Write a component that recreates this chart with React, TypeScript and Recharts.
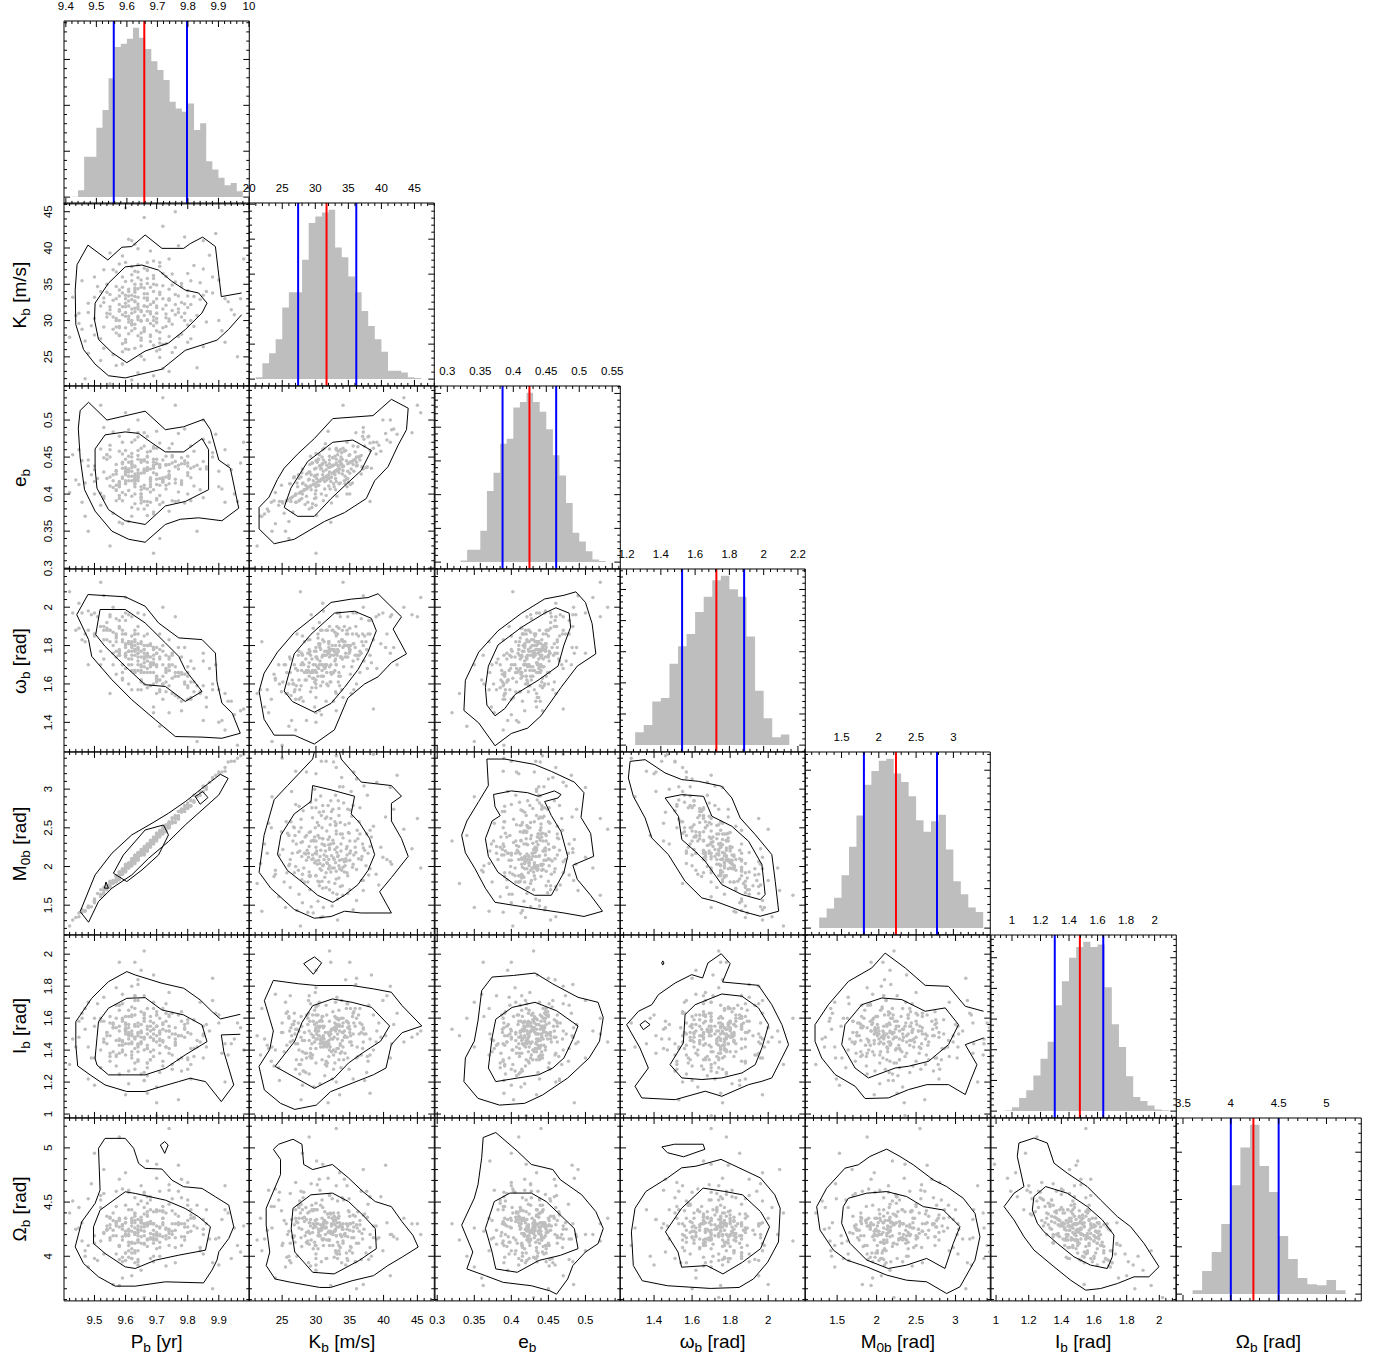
import React from 'react'
import { ScatterChart, Scatter, AreaChart, Area, XAxis, YAxis, ReferenceLine } from 'recharts'

// posterior draws, one entry per draw: P_b, K_b, e_b, omega_b, M_0b, I_b, Omega_b
const P_S = [
  9.62, 9.71, 9.55, 9.84, 9.66, 9.58, 9.77, 9.49, 9.69, 9.92,
  9.63, 9.74, 9.60, 9.53, 9.81, 9.67, 9.59, 9.46, 9.72, 9.64,
  9.88, 9.57, 9.65, 9.79, 9.61, 9.52, 9.70, 9.85, 9.63, 9.56,
  9.75, 9.68, 9.44, 9.73, 9.60, 9.95, 9.66, 9.54, 9.78, 9.62,
  9.69, 9.58, 9.82, 9.64, 9.51, 9.74, 9.67, 9.90, 9.59, 9.71,
  9.63, 9.48, 9.76, 9.65, 9.57, 9.80, 9.62, 9.70, 9.55, 9.86,
  9.66, 9.60, 9.73, 9.47, 9.77, 9.61, 9.64, 9.69, 9.93, 9.58,
  9.67, 9.53, 9.81, 9.63, 9.70, 9.59, 9.75, 9.65, 9.43, 9.84,
  9.68, 9.61, 9.72, 9.57, 9.79, 9.62, 9.66, 9.50, 9.74, 9.87,
  9.60, 9.67, 9.54, 9.76, 9.64, 9.58, 9.71, 9.83, 9.63, 9.69,
  9.45, 9.97, 9.62, 9.66, 9.70, 9.58, 9.78, 9.60, 9.89, 9.52,
  9.64, 9.74, 9.67, 9.56, 9.81, 9.61, 9.69, 9.48, 9.91, 9.65,
  9.73, 9.57, 9.79, 9.63, 9.71, 9.59, 9.68, 9.85, 9.55, 9.66,
  9.76, 9.62, 9.60, 9.72, 9.64, 9.53, 9.82, 9.67, 9.61, 9.70,
  9.94, 9.46, 9.65, 9.77, 9.58, 9.69, 9.63, 9.74, 9.50, 9.80,
  9.66, 9.59, 9.72, 9.62, 9.86, 9.68, 9.55, 9.64, 9.78, 9.60,
  9.70, 9.57, 9.63, 9.75, 9.65, 9.67, 9.61, 9.73, 9.58, 9.69,
  9.80, 9.54, 9.66, 9.62, 9.71, 9.64, 9.60, 9.68, 9.77, 9.56,
  9.42, 9.47, 9.98, 9.96, 9.60, 9.72, 9.55, 9.64, 9.83, 9.69,
  9.52, 9.66, 9.70, 9.58, 9.74, 9.88, 9.50, 9.62, 9.80, 9.45,
  9.90, 9.76, 9.59, 9.67, 9.85, 9.53, 9.71, 9.63, 9.92, 9.48,
  9.61, 9.68, 9.57, 9.74, 9.65, 9.59, 9.70, 9.63, 9.66, 9.78,
  9.55, 9.69, 9.62, 9.72, 9.64, 9.80, 9.58, 9.67, 9.61, 9.71,
  9.65, 9.56, 9.75, 9.63, 9.68, 9.60, 9.73, 9.66, 9.54, 9.77,
  9.62, 9.70, 9.64, 9.59, 9.81, 9.67, 9.57, 9.72, 9.63, 9.69,
  9.60, 9.76, 9.65, 9.58, 9.71, 9.66, 9.62, 9.74, 9.64, 9.53,
  9.79, 9.67, 9.61, 9.70, 9.63, 9.68, 9.59, 9.73, 9.65, 9.62,
  9.69, 9.57, 9.76, 9.64, 9.66, 9.60, 9.72, 9.61, 9.70, 9.65,
  9.52, 9.85, 9.60, 9.75, 9.67, 9.59, 9.82, 9.50, 9.71, 9.63,
  9.78, 9.56, 9.69, 9.64, 9.74, 9.61, 9.68, 9.58, 9.80, 9.65,
]
const K_S = [
  33.5, 28.4, 30.9, 35.2, 24.6, 37.8, 31.1, 29.3, 34.0, 27.0,
  32.6, 38.5, 26.1, 33.1, 30.0, 35.8, 31.9, 28.8, 23.4, 30.4,
  33.8, 36.7, 27.6, 32.3, 41.2, 32.0, 29.7, 37.1, 34.5, 25.3,
  31.4, 39.6, 30.7, 26.8, 33.0, 30.8, 29.0, 35.0, 28.1, 31.6,
  36.2, 27.9, 33.3, 22.8, 34.7, 30.2, 32.8, 35.6, 24.0, 38.0,
  29.5, 32.4, 26.3, 31.2, 30.0, 34.1, 37.4, 25.8, 33.6, 29.8,
  28.5, 35.4, 32.1, 27.2, 40.3, 30.6, 34.4, 26.6, 32.6, 31.5,
  36.9, 29.1, 27.5, 33.9, 30.3, 38.9, 34.9, 25.1, 33.2, 32.9,
  28.0, 32.7, 36.5, 23.8, 31.0, 29.4, 33.7, 36.0, 29.9, 39.0,
  27.4, 31.3, 30.5, 35.3, 37.7, 33.4, 26.9, 30.7, 28.9, 32.5,
  29.6, 33.0, 21.8, 44.2, 31.8, 32.2, 30.5, 33.5, 42.0, 24.5,
  35.9, 23.0, 30.1, 37.0, 35.5, 26.0, 38.2, 31.1, 28.6, 34.6,
  29.2, 28.3, 41.5, 31.7, 24.9, 30.8, 27.1, 26.4, 39.3, 32.0,
  33.6, 36.3, 29.0, 31.6, 33.2, 26.2, 37.6, 35.1, 28.2, 33.0,
  31.5, 35.5, 30.0, 27.8, 34.2, 22.4, 40.5, 32.8, 30.3, 29.4,
  37.2, 25.7, 34.8, 30.0, 34.0, 29.6, 31.9, 36.7, 32.5, 27.0,
  29.8, 33.0, 31.2, 36.4, 26.5, 33.1, 34.3, 30.9, 29.2, 35.0,
  31.8, 31.0, 28.7, 32.9, 33.9, 30.6, 31.9, 32.2, 33.4, 30.5,
  27.7, 22.0, 38.5, 25.0, 45.5, 43.0, 21.3, 39.9, 23.5, 30.0,
  34.0, 32.0, 31.0, 29.0, 33.0, 36.0, 28.0, 41.0, 27.0, 31.0,
  30.0, 45.0, 24.0, 38.0, 41.0, 37.0, 26.0, 35.0, 33.0, 25.5,
  30.2, 34.6, 29.1, 32.9, 27.3, 36.0, 31.0, 33.3, 28.9, 35.1,
  31.5, 30.5, 35.5, 26.7, 32.3, 33.4, 28.0, 37.0, 29.8, 33.6,
  31.4, 32.8, 29.5, 34.2, 27.8, 31.1, 36.1, 30.7, 33.9, 31.6,
  28.6, 34.9, 31.9, 26.8, 32.2, 33.7, 30.3, 29.0, 36.8, 32.6,
  32.4, 30.8, 35.6, 31.3, 27.5, 33.1, 29.6, 34.3, 30.1, 32.5,
  30.0, 31.9, 34.0, 28.6, 32.7, 31.2, 33.8, 30.4, 35.0, 31.0,
  29.3, 34.7, 32.2, 27.9, 34.5, 30.6, 33.0, 32.0, 32.0, 29.9,
  27.5, 33.5, 38.0, 25.6, 30.0, 34.6, 29.2, 33.2, 37.5, 26.2,
  34.7, 28.8, 35.8, 31.6, 27.8, 33.4, 30.9, 30.0, 36.5, 28.3,
]
const E_S = [
  0.444, 0.386, 0.450, 0.434, 0.390, 0.478, 0.391, 0.426, 0.462, 0.389,
  0.414, 0.462, 0.414, 0.397, 0.435, 0.457, 0.421, 0.389, 0.389, 0.447,
  0.456, 0.427, 0.392, 0.388, 0.487, 0.461, 0.413, 0.474, 0.420, 0.374,
  0.468, 0.458, 0.419, 0.423, 0.447, 0.400, 0.380, 0.453, 0.415, 0.424,
  0.464, 0.394, 0.458, 0.380, 0.421, 0.426, 0.451, 0.431, 0.402, 0.469,
  0.387, 0.438, 0.390, 0.462, 0.405, 0.438, 0.436, 0.392, 0.460, 0.434,
  0.412, 0.415, 0.407, 0.415, 0.482, 0.418, 0.459, 0.376, 0.439, 0.398,
  0.478, 0.430, 0.391, 0.427, 0.447, 0.454, 0.452, 0.388, 0.453, 0.406,
  0.434, 0.430, 0.446, 0.391, 0.441, 0.382, 0.446, 0.438, 0.425, 0.470,
  0.426, 0.407, 0.453, 0.444, 0.477, 0.414, 0.398, 0.439, 0.419, 0.439,
  0.413, 0.442, 0.370, 0.483, 0.485, 0.362, 0.418, 0.434, 0.481, 0.385,
  0.483, 0.377, 0.371, 0.484, 0.465, 0.363, 0.435, 0.446, 0.407, 0.400,
  0.451, 0.406, 0.488, 0.424, 0.412, 0.435, 0.389, 0.395, 0.466, 0.446,
  0.415, 0.450, 0.430, 0.419, 0.433, 0.394, 0.437, 0.443, 0.405, 0.462,
  0.433, 0.445, 0.395, 0.403, 0.458, 0.373, 0.473, 0.431, 0.417, 0.442,
  0.465, 0.391, 0.416, 0.455, 0.437, 0.413, 0.411, 0.452, 0.449, 0.399,
  0.394, 0.432, 0.422, 0.450, 0.396, 0.432, 0.424, 0.440, 0.411, 0.443,
  0.425, 0.421, 0.408, 0.431, 0.437, 0.418, 0.436, 0.417, 0.434, 0.418,
  0.402, 0.370, 0.470, 0.390, 0.510, 0.530, 0.330, 0.500, 0.350, 0.320,
  0.520, 0.430, 0.420, 0.410, 0.440, 0.450, 0.400, 0.470, 0.400, 0.460,
  0.410, 0.520, 0.360, 0.390, 0.500, 0.490, 0.340, 0.400, 0.460, 0.350,
  0.443, 0.410, 0.440, 0.421, 0.410, 0.443, 0.426, 0.438, 0.429, 0.413,
  0.423, 0.438, 0.440, 0.422, 0.423, 0.429, 0.414, 0.434, 0.424, 0.440,
  0.443, 0.426, 0.442, 0.418, 0.403, 0.431, 0.439, 0.434, 0.447, 0.439,
  0.397, 0.442, 0.426, 0.423, 0.422, 0.450, 0.412, 0.420, 0.437, 0.429,
  0.428, 0.420, 0.446, 0.417, 0.421, 0.432, 0.418, 0.414, 0.421, 0.449,
  0.445, 0.436, 0.432, 0.427, 0.410, 0.422, 0.441, 0.412, 0.428, 0.441,
  0.406, 0.431, 0.437, 0.429, 0.445, 0.418, 0.417, 0.451, 0.441, 0.400,
  0.401, 0.444, 0.459, 0.391, 0.385, 0.470, 0.411, 0.433, 0.436, 0.414,
  0.441, 0.409, 0.447, 0.424, 0.423, 0.434, 0.420, 0.415, 0.451, 0.406,
]
const W_S = [
  1.80, 1.62, 1.88, 1.55, 1.60, 1.93, 1.64, 1.96, 1.79, 1.36,
  1.66, 1.83, 1.74, 1.90, 1.53, 1.75, 1.82, 1.83, 1.52, 1.81,
  1.57, 1.94, 1.57, 1.65, 1.96, 1.90, 1.63, 1.72, 1.86, 1.70,
  1.70, 1.81, 1.88, 1.56, 1.86, 1.44, 1.71, 1.89, 1.51, 1.77,
  1.73, 1.76, 1.61, 1.57, 1.95, 1.69, 1.72, 1.57, 1.63, 1.86,
  1.67, 1.88, 1.54, 1.82, 1.74, 1.69, 1.82, 1.55, 1.95, 1.48,
  1.73, 1.86, 1.61, 1.86, 1.79, 1.81, 1.76, 1.60, 1.51, 1.75,
  1.86, 1.83, 1.52, 1.83, 1.64, 1.95, 1.76, 1.61, 1.97, 1.56,
  1.71, 1.77, 1.77, 1.65, 1.61, 1.73, 1.74, 1.97, 1.67, 1.68,
  1.75, 1.68, 1.92, 1.69, 1.86, 1.89, 1.57, 1.59, 1.67, 1.78,
  1.89, 1.46, 1.57, 1.96, 1.76, 1.75, 1.46, 1.97, 1.70, 1.70,
  1.90, 1.45, 1.66, 2.00, 1.72, 1.60, 1.71, 1.98, 1.41, 1.74,
  1.66, 1.82, 1.79, 1.88, 1.56, 1.70, 1.59, 1.41, 1.96, 1.78,
  1.64, 1.85, 1.76, 1.60, 1.78, 1.73, 1.68, 1.80, 1.70, 1.76,
  1.51, 1.97, 1.62, 1.53, 1.90, 1.48, 1.86, 1.67, 1.86, 1.58,
  1.85, 1.66, 1.80, 1.79, 1.53, 1.66, 1.82, 1.76, 1.66, 1.68,
  1.61, 1.85, 1.75, 1.75, 1.62, 1.75, 1.82, 1.67, 1.75, 1.78,
  1.59, 1.83, 1.66, 1.80, 1.73, 1.72, 1.81, 1.70, 1.66, 1.80,
  2.08, 1.82, 1.47, 1.28, 2.05, 2.00, 1.55, 1.97, 1.30, 1.45,
  2.13, 1.74, 1.70, 1.78, 1.70, 1.60, 1.85, 1.95, 1.52, 2.02,
  1.40, 1.95, 1.62, 1.75, 1.76, 2.06, 1.38, 1.78, 1.55, 1.70,
  1.73, 1.80, 1.77, 1.73, 1.67, 1.86, 1.64, 1.77, 1.69, 1.65,
  1.88, 1.70, 1.81, 1.60, 1.78, 1.64, 1.75, 1.80, 1.77, 1.74,
  1.69, 1.87, 1.63, 1.80, 1.70, 1.75, 1.75, 1.78, 1.88, 1.66,
  1.67, 1.79, 1.79, 1.70, 1.61, 1.74, 1.84, 1.64, 1.82, 1.75,
  1.80, 1.64, 1.81, 1.77, 1.62, 1.76, 1.70, 1.74, 1.74, 1.88,
  1.60, 1.76, 1.82, 1.62, 1.78, 1.69, 1.83, 1.68, 1.77, 1.75,
  1.66, 1.86, 1.66, 1.67, 1.80, 1.79, 1.70, 1.77, 1.69, 1.70,
  1.77, 1.59, 1.93, 1.55, 1.58, 1.88, 1.56, 1.86, 1.78, 1.66,
  1.74, 1.76, 1.79, 1.70, 1.59, 1.82, 1.74, 1.77, 1.66, 1.66,
]
const M_S = [
  2.08, 2.38, 1.81, 2.97, 2.15, 1.89, 2.71, 1.48, 2.37, 3.23,
  2.11, 2.52, 2.03, 1.64, 2.86, 2.25, 1.97, 1.41, 2.50, 2.08,
  3.15, 1.82, 2.20, 2.71, 2.03, 1.70, 2.33, 3.04, 2.07, 1.80,
  2.62, 2.25, 1.34, 2.50, 1.94, 3.36, 2.26, 1.70, 2.72, 2.05,
  2.36, 1.83, 2.85, 2.17, 1.65, 2.57, 2.22, 3.22, 1.90, 2.47,
  2.15, 1.49, 2.58, 2.15, 1.88, 2.82, 2.01, 2.43, 1.74, 3.00,
  2.16, 1.99, 2.54, 1.43, 2.64, 2.04, 2.10, 2.33, 3.35, 1.92,
  2.29, 1.70, 2.78, 2.09, 2.40, 1.90, 2.56, 2.22, 1.31, 2.92,
  2.32, 1.98, 2.42, 1.87, 2.79, 2.09, 2.20, 1.56, 2.50, 3.09,
  1.95, 2.27, 1.75, 2.65, 2.17, 1.85, 2.40, 2.91, 2.12, 2.34,
  1.40, 3.43, 2.04, 2.23, 2.35, 1.93, 2.70, 1.97, 3.18, 1.61,
  2.18, 2.56, 2.20, 1.82, 2.79, 2.01, 2.38, 1.47, 3.22, 2.15,
  2.45, 1.80, 2.74, 2.04, 2.45, 1.95, 2.29, 2.97, 1.76, 2.24,
  2.57, 2.10, 1.93, 2.46, 2.13, 1.73, 2.92, 2.20, 1.98, 2.42,
  3.36, 1.44, 2.17, 2.61, 1.93, 2.29, 2.09, 2.58, 1.55, 2.76,
  2.21, 1.92, 2.44, 2.07, 3.03, 2.34, 1.80, 2.09, 2.74, 2.00,
  2.38, 1.84, 2.09, 2.58, 2.17, 2.25, 2.01, 2.50, 1.88, 2.33,
  2.79, 1.72, 2.21, 2.05, 2.42, 2.13, 1.97, 2.29, 2.66, 1.80,
  1.23, 1.42, 3.45, 3.40, 1.98, 2.48, 1.78, 2.12, 2.90, 2.33,
  1.63, 2.22, 2.36, 1.88, 2.55, 3.13, 1.53, 2.06, 2.80, 1.35,
  3.20, 2.62, 1.95, 2.26, 3.02, 1.69, 2.40, 2.08, 3.28, 1.47,
  2.03, 2.26, 1.87, 2.53, 2.18, 1.96, 2.36, 2.14, 2.17, 2.73,
  1.73, 2.37, 2.03, 2.51, 2.14, 2.75, 1.90, 2.24, 2.05, 2.42,
  2.20, 1.78, 2.63, 2.06, 2.31, 2.02, 2.47, 2.21, 1.75, 2.64,
  2.08, 2.43, 2.09, 1.92, 2.85, 2.29, 1.81, 2.44, 2.13, 2.30,
  1.98, 2.66, 2.15, 1.86, 2.45, 2.18, 2.10, 2.54, 2.16, 1.66,
  2.76, 2.28, 1.99, 2.40, 2.09, 2.28, 1.95, 2.53, 2.17, 2.01,
  2.33, 1.88, 2.62, 2.13, 2.23, 1.97, 2.46, 2.01, 2.38, 2.17,
  1.64, 3.03, 1.97, 2.58, 2.25, 1.92, 2.83, 1.58, 2.42, 2.09,
  2.74, 1.80, 2.33, 2.13, 2.50, 2.01, 2.29, 1.88, 2.76, 2.17,
]
const I_S = [
  1.52, 1.38, 1.61, 1.45, 1.21, 1.68, 1.49, 1.35, 1.57, 1.44,
  1.28, 1.62, 1.52, 1.73, 1.41, 1.55, 1.46, 1.60, 1.33, 1.49,
  1.71, 1.37, 1.25, 1.53, 1.44, 1.58, 1.17, 1.50, 1.66, 1.39,
  1.31, 1.48, 1.42, 1.63, 1.56, 1.47, 1.74, 1.51, 1.27, 1.45,
  1.36, 1.55, 1.59, 1.43, 1.69, 1.52, 1.32, 1.57, 1.40, 1.47,
  1.62, 1.22, 1.54, 1.45, 1.79, 1.34, 1.50, 1.64, 1.38, 1.56,
  1.26, 1.61, 1.42, 1.53, 1.49, 1.19, 1.84, 1.46, 1.37, 1.68,
  1.41, 1.58, 1.31, 1.55, 1.62, 1.45, 1.28, 1.51, 1.47, 1.70,
  1.39, 1.54, 1.66, 1.30, 1.48, 1.44, 1.60, 1.35, 1.76, 1.52,
  1.57, 1.24, 1.49, 1.43, 1.33, 1.65, 1.50, 1.46, 1.71, 1.53,
  1.58, 1.54, 1.37, 1.48, 1.07, 1.95, 1.58, 1.12, 1.63, 1.29,
  1.81, 1.41, 1.50, 1.54, 1.22, 1.61, 1.87, 1.42, 1.38, 1.48,
  1.69, 1.46, 1.56, 1.32, 1.51, 1.59, 1.34, 1.49, 1.57, 1.40,
  1.44, 1.62, 1.52, 1.30, 1.50, 1.45, 1.36, 1.66, 1.27, 1.55,
  1.44, 1.63, 1.90, 1.09, 1.52, 1.47, 1.74, 1.61, 1.55, 1.35,
  1.21, 1.43, 1.57, 1.67, 1.42, 1.48, 1.36, 1.51, 1.64, 1.53,
  1.45, 1.60, 1.47, 1.50, 1.56, 1.41, 1.49, 1.58, 1.38, 1.53,
  1.51, 1.44, 1.62, 1.39, 1.46, 1.55, 1.50, 1.52, 1.34, 1.54,
  1.31, 1.66, 1.40, 1.57, 1.52, 1.45, 1.49, 1.71, 1.42, 1.53,
  1.60, 2.02, 0.99, 1.25, 1.55, 1.85, 1.18, 1.80, 1.28, 1.48,
  1.62, 1.50, 1.75, 1.13, 1.35, 1.45, 1.60, 1.95, 1.20, 1.70,
  1.47, 1.58, 1.36, 1.52, 1.44, 1.60, 1.55, 1.41, 1.63, 1.49,
  1.33, 1.70, 1.50, 1.56, 1.39, 1.59, 1.46, 1.53, 1.65, 1.43,
  1.51, 1.57, 1.37, 1.48, 1.61, 1.54, 1.42, 1.47, 1.51, 1.62,
  1.35, 1.55, 1.44, 1.58, 1.50, 1.29, 1.68, 1.46, 1.56, 1.40,
  1.53, 1.45, 1.64, 1.43, 1.52, 1.60, 1.49, 1.38, 1.57, 1.47,
  1.54, 1.43, 1.51, 1.62, 1.48, 1.55, 1.39, 1.52, 1.45, 1.61,
  1.50, 1.54, 1.47, 1.34, 1.58, 1.44, 1.53, 1.50, 1.49, 1.52,
  1.40, 1.55, 1.37, 1.63, 1.32, 1.69, 1.41, 1.60, 1.26, 1.74,
  1.35, 1.56, 1.66, 1.42, 1.48, 1.56, 1.34, 1.47, 1.57, 1.51,
]
const O_S = [
  4.31, 4.19, 4.35, 4.08, 4.59, 3.97, 4.29, 4.67, 4.12, 4.43,
  4.33, 4.17, 3.96, 4.02, 4.43, 4.37, 4.15, 4.14, 4.46, 4.22,
  3.94, 4.60, 4.51, 4.30, 4.20, 4.56, 4.43, 4.25, 4.03, 4.33,
  4.20, 4.55, 4.25, 4.19, 4.03, 4.26, 4.11, 4.37, 4.54, 3.98,
  4.41, 4.09, 4.35, 4.24, 3.96, 4.66, 4.29, 4.17, 4.62, 4.08,
  4.22, 4.53, 3.94, 4.33, 4.02, 4.52, 4.03, 4.20, 4.29, 4.43,
  4.45, 4.03, 4.40, 4.00, 4.84, 4.61, 3.92, 4.17, 4.40, 4.27,
  4.16, 4.21, 4.35, 4.54, 4.07, 4.28, 4.53, 4.12, 4.51, 4.05,
  4.43, 3.99, 4.29, 4.46, 4.15, 4.43, 4.19, 4.12, 4.10, 4.16,
  4.47, 4.41, 4.24, 4.17, 4.48, 4.10, 4.13, 4.47, 3.94, 4.20,
  4.26, 4.04, 4.35, 4.30, 4.72, 3.73, 4.71, 4.77, 4.16, 4.52,
  3.95, 4.61, 4.88, 3.74, 4.38, 4.23, 4.00, 4.10, 4.34, 4.65,
  3.91, 4.32, 4.18, 4.39, 4.42, 3.95, 4.32, 4.34, 4.17, 4.57,
  4.08, 4.12, 4.31, 4.31, 4.13, 4.58, 4.36, 4.09, 4.59, 4.19,
  3.98, 4.31, 3.87, 4.60, 4.71, 4.16, 4.31, 4.23, 4.19, 4.47,
  4.39, 3.99, 4.42, 3.98, 4.30, 4.30, 4.36, 3.97, 4.10, 4.35,
  4.28, 4.19, 4.26, 4.23, 4.18, 4.31, 4.19, 4.16, 4.34, 4.30,
  4.22, 4.28, 4.12, 4.33, 4.27, 4.19, 4.23, 4.21, 4.37, 4.19,
  4.40, 4.05, 4.28, 4.10, 4.20, 4.35, 4.15, 4.05, 4.26, 4.30,
  4.14, 3.62, 4.85, 5.10, 5.18, 3.70, 4.95, 3.82, 4.68, 4.45,
  3.92, 4.30, 3.80, 4.55, 4.20, 4.80, 4.00, 4.05, 4.65, 3.90,
  4.43, 3.98, 4.31, 4.25, 4.31, 4.29, 4.16, 4.40, 4.23, 4.30,
  4.26, 4.24, 4.23, 4.18, 4.28, 4.27, 4.35, 4.38, 4.13, 4.20,
  4.31, 4.24, 4.42, 4.20, 4.17, 4.31, 4.26, 4.29, 4.25, 4.31,
  4.13, 4.41, 4.15, 4.29, 4.23, 4.28, 4.30, 4.41, 4.21, 4.30,
  4.35, 4.24, 4.27, 4.33, 4.26, 4.27, 4.07, 4.21, 4.34, 4.22,
  4.27, 4.15, 4.25, 4.22, 4.37, 4.16, 4.18, 4.25, 4.24, 4.28,
  4.15, 4.28, 4.39, 4.25, 4.30, 4.19, 4.35, 4.10, 4.15, 4.33,
  4.45, 4.02, 4.20, 4.30, 4.49, 4.25, 4.28, 3.98, 4.60, 4.12,
  4.18, 4.40, 3.95, 4.15, 4.48, 4.05, 4.52, 4.10, 4.33, 4.36,
]

// histogram heights per bin, with first bin edge and bin width
const P_HIST = [1, 15, 88, 88, 151, 190, 259, 327, 334, 345, 369, 347, 323, 296, 277, 255, 208, 193, 186, 204, 146, 161, 78, 60, 42, 26, 31, 13]
const K_HIST = [5, 45, 74, 114, 205, 248, 248, 341, 446, 465, 476, 484, 376, 348, 293, 248, 195, 152, 114, 78, 24, 24, 19, 5, 3]
const E_HIST = [5, 37, 37, 93, 211, 265, 351, 366, 458, 475, 502, 475, 446, 394, 317, 257, 175, 87, 61, 32, 8, 3]
const W_HIST = [41, 65, 140, 151, 261, 318, 357, 428, 477, 530, 544, 501, 477, 349, 175, 86, 25, 34]
const M_HIST = [27, 50, 77, 134, 206, 285, 363, 398, 424, 429, 392, 370, 334, 273, 244, 271, 287, 199, 119, 86, 52, 41]
const I_HIST = [2, 13, 43, 68, 116, 171, 226, 345, 423, 500, 535, 552, 535, 543, 404, 283, 209, 114, 46, 33, 18, 5, 3]
const O_HIST = [8, 49, 89, 148, 230, 310, 358, 271, 216, 123, 74, 34, 21, 19, 30, 8]
const BIN_START = [9.42, 21, 0.32, 1.25, 1.2, 0.95, 3.6]
const BIN_WIDTH = [0.02, 1, 0.01, 0.05, 0.1, 0.05, 0.1]

// 16th / 50th / 84th percentiles
const P_Q = [9.557, 9.657, 9.797]
const K_Q = [27.4, 31.7, 36.2]
const E_Q = [0.3837, 0.4245, 0.465]
const W_Q = [1.524, 1.724, 1.886]
const M_Q = [1.8, 2.23, 2.78]
const I_Q = [1.3, 1.476, 1.64]
const O_Q = [4.0, 4.236, 4.5]

// labelled tick values
const P_TK = [9.4, 9.5, 9.6, 9.7, 9.8, 9.9, 10]
const K_TK = [20, 25, 30, 35, 40, 45]
const E_TK = [0.3, 0.35, 0.4, 0.45, 0.5, 0.55]
const W_TK = [1.2, 1.4, 1.6, 1.8, 2, 2.2]
const M_TK = [1, 1.5, 2, 2.5, 3, 3.5]
const I_TK = [1, 1.2, 1.4, 1.6, 1.8, 2]
const O_TK = [3.5, 4, 4.5, 5]

const NAME = ['P', 'K', 'e', 'ω', 'M', 'I', 'Ω']
const SUB = ['b', 'b', 'b', 'b', '0b', 'b', 'b']
const UNIT = [' [yr]', ' [m/s]', '', ' [rad]', ' [rad]', ' [rad]', ' [rad]']

// 1 and 2 sigma contours (x, y)
const PK_OUT = [[9.973, 30.8], [9.932, 28.8], [9.894, 27.3], [9.792, 25.9], [9.717, 23.3], [9.599, 22.1], [9.545, 22.4], [9.502, 24.0], [9.465, 26.0], [9.44, 29.45], [9.438, 34.2], [9.444, 37.7], [9.479, 40.4], [9.543, 38.35], [9.588, 40.1], [9.62, 40.2], [9.663, 41.8], [9.717, 39.95], [9.787, 39.95], [9.808, 40.6], [9.848, 41.5], [9.889, 40.2], [9.908, 33.3], [9.973, 33.8]]
const PK_IN = [[9.502, 32.4], [9.545, 35.15], [9.599, 37.4], [9.653, 37.65], [9.706, 36.95], [9.749, 35.4], [9.792, 34.2], [9.835, 33.8], [9.862, 32.4], [9.846, 31.05], [9.792, 28.75], [9.738, 26.9], [9.663, 25.8], [9.604, 24.2], [9.556, 25.6], [9.513, 27.4], [9.5, 30.1]]
const PE_OUT = [[9.454, 0.513], [9.481, 0.524], [9.54, 0.5], [9.663, 0.512], [9.728, 0.487], [9.787, 0.491], [9.851, 0.501], [9.873, 0.487], [9.9, 0.446], [9.937, 0.435], [9.964, 0.381], [9.91, 0.364], [9.835, 0.368], [9.776, 0.366], [9.728, 0.359], [9.663, 0.335], [9.61, 0.339], [9.556, 0.35], [9.502, 0.377], [9.468, 0.406], [9.454, 0.449], [9.448, 0.489]]
const PE_IN = [[9.502, 0.461], [9.534, 0.48], [9.599, 0.484], [9.642, 0.482], [9.685, 0.469], [9.728, 0.457], [9.787, 0.457], [9.846, 0.475], [9.867, 0.46], [9.867, 0.406], [9.792, 0.39], [9.728, 0.384], [9.663, 0.359], [9.599, 0.364], [9.545, 0.379], [9.508, 0.408], [9.502, 0.435]]
const PW_OUT = [[9.479, 2.066], [9.599, 2.054], [9.663, 2.005], [9.706, 1.918], [9.771, 1.84], [9.846, 1.831], [9.889, 1.761], [9.894, 1.613], [9.91, 1.5], [9.943, 1.448], [9.969, 1.343], [9.91, 1.317], [9.846, 1.323], [9.76, 1.326], [9.696, 1.413], [9.62, 1.518], [9.556, 1.622], [9.491, 1.744], [9.481, 1.831], [9.443, 1.961]]
const PW_IN = [[9.518, 1.988], [9.599, 1.988], [9.663, 1.918], [9.728, 1.814], [9.771, 1.744], [9.792, 1.674], [9.846, 1.561], [9.792, 1.509], [9.728, 1.587], [9.663, 1.596], [9.599, 1.692], [9.534, 1.796], [9.504, 1.857]]
const PM_OUT = [[9.454, 1.417], [9.502, 1.891], [9.556, 2.171], [9.62, 2.408], [9.685, 2.559], [9.738, 2.688], [9.792, 2.838], [9.846, 3.011], [9.905, 3.192], [9.93, 3.14], [9.9, 2.925], [9.846, 2.731], [9.792, 2.537], [9.738, 2.322], [9.674, 2.106], [9.62, 1.891], [9.556, 1.719], [9.513, 1.547], [9.481, 1.28]]
const PM_IN = [[9.561, 1.913], [9.593, 2.149], [9.663, 2.472], [9.722, 2.537], [9.738, 2.408], [9.706, 2.149], [9.653, 1.956], [9.604, 1.805]]
const PM_IS1 = [[9.824, 2.904], [9.848, 2.968], [9.865, 2.891], [9.84, 2.805]]
const PM_IS2 = [[9.537, 1.8], [9.545, 1.72], [9.532, 1.72]]
const PI_OUT = [[9.969, 1.624], [9.905, 1.595], [9.878, 1.641], [9.84, 1.714], [9.787, 1.787], [9.717, 1.818], [9.631, 1.87], [9.604, 1.891], [9.545, 1.828], [9.491, 1.724], [9.44, 1.578], [9.44, 1.432], [9.446, 1.301], [9.486, 1.245], [9.534, 1.182], [9.604, 1.141], [9.663, 1.141], [9.696, 1.161], [9.771, 1.203], [9.808, 1.224], [9.857, 1.203], [9.908, 1.078], [9.948, 1.182], [9.916, 1.391], [9.908, 1.495], [9.969, 1.499]]
const PI_IN = [[9.502, 1.349], [9.513, 1.578], [9.545, 1.662], [9.604, 1.724], [9.663, 1.728], [9.717, 1.651], [9.787, 1.62], [9.846, 1.557], [9.862, 1.453], [9.792, 1.37], [9.728, 1.286], [9.663, 1.245], [9.599, 1.245], [9.545, 1.245], [9.508, 1.307]]
const PO_OUT = [[9.438, 4.087], [9.459, 4.318], [9.502, 4.488], [9.518, 4.611], [9.513, 4.996], [9.534, 5.088], [9.599, 5.088], [9.626, 4.996], [9.642, 4.857], [9.663, 4.811], [9.717, 4.805], [9.749, 4.703], [9.787, 4.642], [9.846, 4.626], [9.889, 4.549], [9.932, 4.472], [9.948, 4.272], [9.932, 4.164], [9.9, 4.041], [9.894, 3.964], [9.878, 3.872], [9.851, 3.754], [9.728, 3.764], [9.631, 3.724], [9.567, 3.724], [9.513, 3.81], [9.465, 3.933]]
const PO_IN = [[9.497, 4.272], [9.518, 4.426], [9.599, 4.595], [9.631, 4.58], [9.728, 4.518], [9.792, 4.441], [9.835, 4.364], [9.873, 4.272], [9.857, 4.056], [9.771, 4.01], [9.696, 3.964], [9.631, 3.887], [9.599, 3.902], [9.534, 4.026], [9.497, 4.118]]
const PO_IS1 = [[9.712, 5.027], [9.726, 5.058], [9.737, 5.027], [9.726, 4.95]]
const KE_OUT = [[21.59, 0.382], [23.07, 0.396], [24.31, 0.42], [25.3, 0.435], [27.28, 0.454], [29.76, 0.475], [32.49, 0.502], [38.43, 0.506], [41.16, 0.528], [43.64, 0.516], [43.39, 0.487], [42.15, 0.466], [40.66, 0.437], [38.68, 0.418], [37.44, 0.394], [34.22, 0.375], [31.25, 0.363], [26.79, 0.339], [23.82, 0.333], [21.59, 0.353]]
const KE_IN = [[25.3, 0.382], [26.29, 0.408], [28.77, 0.444], [32.49, 0.47], [35.46, 0.473], [38.19, 0.459], [36.7, 0.432], [34.22, 0.411], [32.24, 0.394], [29.76, 0.37], [27.28, 0.37]]
const KW_OUT = [[21.59, 1.563], [22.33, 1.656], [24.31, 1.766], [26.79, 1.868], [29.76, 1.951], [32.24, 2.025], [35.21, 2.042], [37.69, 2.05], [39.18, 2.07], [42.65, 1.95], [41.41, 1.886], [43.39, 1.757], [41.16, 1.711], [39.18, 1.637], [37.19, 1.6], [34.72, 1.527], [32.73, 1.361], [29.76, 1.287], [26.79, 1.333], [23.82, 1.333], [22.33, 1.416]]
const KW_IN = [[25.3, 1.563], [26.79, 1.757], [29.27, 1.859], [32.73, 1.969], [35.71, 1.979], [38.19, 1.942], [38.93, 1.877], [37.69, 1.766], [36.2, 1.674], [34.22, 1.582], [32.24, 1.499], [29.76, 1.453], [26.54, 1.508]]
const KM_OUT = [[29.76, 3.48], [29.51, 3.389], [25.8, 3.046], [23.82, 2.863], [22.33, 2.405], [21.59, 1.925], [23.32, 1.719], [26.79, 1.445], [29.76, 1.331], [32.24, 1.354], [34.22, 1.422], [36.7, 1.399], [41.16, 1.399], [39.42, 1.674], [41.16, 1.857], [43.64, 2.131], [42.65, 2.36], [41.16, 2.588], [41.16, 2.817], [42.65, 2.908], [41.16, 3.046], [36.7, 3.091], [33.73, 3.389], [33.48, 3.48]]
const KM_IN = [[29.51, 3.046], [32.24, 2.991], [35.71, 2.908], [35.21, 2.68], [36.45, 2.565], [37.94, 2.36], [38.68, 2.154], [37.69, 1.948], [36.2, 1.765], [34.22, 1.628], [32.49, 1.537], [30.26, 1.628], [27.78, 1.811], [25.8, 1.948], [24.31, 2.154], [24.81, 2.405], [26.79, 2.68], [29.27, 2.84]]
const KI_OUT = [[21.58, 1.298], [23.17, 1.404], [23.7, 1.52], [22.37, 1.709], [23.7, 1.836], [27.4, 1.815], [30.05, 1.804], [35.34, 1.804], [38.51, 1.783], [41.15, 1.762], [42.74, 1.678], [45.65, 1.551], [42.74, 1.509], [41.15, 1.435], [40.36, 1.288], [38.51, 1.246], [35.34, 1.193], [32.16, 1.14], [30.05, 1.056], [26.87, 1.029], [24.76, 1.067], [22.37, 1.151]]
const KI_IN = [[23.96, 1.298], [26.87, 1.456], [27.93, 1.572], [29.52, 1.678], [32.43, 1.72], [35.34, 1.699], [38.24, 1.667], [40.89, 1.551], [39.57, 1.456], [36.92, 1.383], [34.81, 1.319], [32.69, 1.225], [29.78, 1.161]]
const KI_IS1 = [[28.19, 1.941], [29.78, 1.983], [30.84, 1.946], [29.62, 1.874]]
const KO_OUT = [[23.7, 4.987], [24.49, 5.034], [26.61, 5.08], [27.93, 5.034], [28.19, 4.847], [29.52, 4.8], [32.43, 4.847], [34.81, 4.723], [36.92, 4.598], [38.77, 4.505], [41.15, 4.458], [42.74, 4.318], [44.33, 4.194], [45.12, 4.085], [42.74, 3.992], [40.63, 3.914], [38.51, 3.821], [35.34, 3.774], [32.16, 3.712], [30.57, 3.712], [26.34, 3.759], [23.96, 3.79], [22.64, 3.914], [23.17, 4.039], [22.64, 4.287], [22.64, 4.443], [24.76, 4.754], [24.76, 4.894]]
const KO_IN = [[26.61, 4.443], [29.25, 4.567], [32.43, 4.583], [34.81, 4.505], [36.92, 4.381], [38.77, 4.256], [38.93, 4.07], [36.39, 3.961], [32.69, 3.837], [29.52, 3.852], [26.87, 4.039], [26.34, 4.256]]
const EW_OUT = [[0.336, 1.462], [0.338, 1.619], [0.356, 1.766], [0.382, 1.877], [0.414, 1.969], [0.445, 2.043], [0.471, 2.062], [0.487, 2.08], [0.5, 2.025], [0.509, 1.914], [0.514, 1.757], [0.489, 1.693], [0.467, 1.582], [0.44, 1.434], [0.422, 1.37], [0.4, 1.342], [0.378, 1.278], [0.356, 1.397]]
const EW_IN = [[0.365, 1.582], [0.369, 1.693], [0.382, 1.803], [0.414, 1.896], [0.445, 1.969], [0.46, 1.997], [0.478, 1.969], [0.48, 1.896], [0.471, 1.803], [0.463, 1.693], [0.436, 1.619], [0.405, 1.545], [0.391, 1.471], [0.378, 1.434], [0.367, 1.49]]
const EM_OUT = [[0.367, 3.389], [0.369, 3.046], [0.356, 2.84], [0.34, 2.588], [0.333, 2.405], [0.338, 2.177], [0.351, 1.971], [0.365, 1.719], [0.378, 1.537], [0.423, 1.468], [0.471, 1.399], [0.498, 1.354], [0.523, 1.422], [0.507, 1.628], [0.489, 1.834], [0.483, 2.017], [0.511, 2.131], [0.507, 2.428], [0.494, 2.634], [0.498, 2.954], [0.485, 3.091], [0.454, 3.229], [0.431, 3.32], [0.391, 3.389]]
const EM_IN = [[0.376, 2.931], [0.378, 2.771], [0.385, 2.657], [0.374, 2.588], [0.365, 2.36], [0.369, 2.131], [0.382, 1.925], [0.405, 1.765], [0.431, 1.628], [0.454, 1.628], [0.471, 1.925], [0.476, 2.131], [0.467, 2.451], [0.454, 2.657], [0.445, 2.84], [0.463, 2.886], [0.467, 2.931], [0.458, 2.977], [0.436, 2.908], [0.422, 2.954], [0.4, 2.977]]
const EI_OUT = [[0.338, 1.351], [0.35, 1.456], [0.355, 1.583], [0.36, 1.772], [0.374, 1.857], [0.403, 1.867], [0.432, 1.882], [0.456, 1.814], [0.49, 1.73], [0.517, 1.699], [0.524, 1.604], [0.519, 1.456], [0.505, 1.351], [0.476, 1.225], [0.442, 1.119], [0.418, 1.067], [0.384, 1.056], [0.355, 1.098], [0.336, 1.203]]
const EI_IN = [[0.379, 1.203], [0.369, 1.288], [0.374, 1.477], [0.379, 1.593], [0.401, 1.667], [0.432, 1.699], [0.461, 1.646], [0.49, 1.551], [0.483, 1.467], [0.471, 1.351], [0.456, 1.288], [0.437, 1.246], [0.408, 1.225]]
const EO_OUT = [[0.362, 5.096], [0.379, 5.142], [0.408, 4.971], [0.427, 4.847], [0.456, 4.8], [0.466, 4.707], [0.495, 4.567], [0.514, 4.412], [0.524, 4.256], [0.517, 4.116], [0.5, 4.039], [0.483, 3.914], [0.476, 3.79], [0.461, 3.65], [0.452, 3.681], [0.427, 3.728], [0.389, 3.759], [0.365, 3.821], [0.34, 3.883], [0.348, 4.039], [0.333, 4.287], [0.35, 4.536], [0.355, 4.66], [0.36, 4.909]]
const EO_IN = [[0.365, 4.256], [0.377, 4.505], [0.398, 4.583], [0.427, 4.583], [0.447, 4.505], [0.466, 4.381], [0.485, 4.256], [0.49, 4.07], [0.466, 4.008], [0.437, 3.961], [0.408, 3.852], [0.379, 3.883], [0.374, 4.039]]
const WM_OUT = [[1.274, 3.359], [1.353, 3.381], [1.458, 3.209], [1.546, 3.123], [1.633, 3.101], [1.756, 3.037], [1.809, 2.886], [1.853, 2.627], [1.932, 2.412], [2.019, 2.154], [2.037, 1.809], [2.055, 1.422], [1.958, 1.357], [1.862, 1.422], [1.721, 1.551], [1.651, 1.594], [1.563, 1.809], [1.475, 2.154], [1.388, 2.369], [1.353, 2.627], [1.291, 2.907], [1.265, 3.144]]
const WM_IN = [[1.458, 2.886], [1.546, 2.929], [1.66, 2.907], [1.704, 2.649], [1.809, 2.52], [1.897, 2.326], [1.967, 2.025], [1.984, 1.637], [1.958, 1.572], [1.862, 1.637], [1.756, 1.766], [1.669, 2.068], [1.616, 2.197], [1.546, 2.348], [1.528, 2.649]]
const WI_OUT = [[1.256, 1.559], [1.318, 1.643], [1.388, 1.684], [1.423, 1.747], [1.511, 1.82], [1.598, 1.872], [1.655, 1.851], [1.683, 1.945], [1.753, 2.003], [1.8, 1.941], [1.76, 1.826], [1.949, 1.805], [2.019, 1.684], [2.072, 1.559], [2.107, 1.434], [2.072, 1.351], [2.019, 1.226], [1.967, 1.205], [1.897, 1.184], [1.756, 1.111], [1.669, 1.143], [1.511, 1.09], [1.335, 1.101], [1.3, 1.174], [1.37, 1.288], [1.326, 1.413]]
const WI_IN = [[1.554, 1.445], [1.563, 1.622], [1.616, 1.684], [1.756, 1.751], [1.862, 1.737], [1.949, 1.664], [2.002, 1.559], [1.967, 1.414], [1.932, 1.309], [1.862, 1.257], [1.756, 1.226], [1.651, 1.216], [1.546, 1.226], [1.484, 1.309]]
const WI_IS1 = [[1.44, 1.945], [1.446, 1.958], [1.452, 1.945], [1.446, 1.932]]
const WI_IS2 = [[1.326, 1.559], [1.353, 1.584], [1.379, 1.559], [1.344, 1.528]]
const WO_OUT = [[1.3, 4.443], [1.357, 4.598], [1.47, 4.722], [1.545, 4.816], [1.62, 4.831], [1.752, 4.894], [1.847, 4.816], [1.96, 4.722], [2.035, 4.567], [2.063, 4.443], [2.054, 4.132], [1.997, 3.945], [1.922, 3.79], [1.847, 3.712], [1.696, 3.703], [1.47, 3.728], [1.338, 3.774], [1.291, 3.914], [1.281, 4.225]]
const WO_IN = [[1.46, 4.225], [1.545, 4.443], [1.658, 4.629], [1.771, 4.598], [1.865, 4.567], [1.96, 4.412], [2.007, 4.272], [1.96, 4.07], [1.865, 3.945], [1.762, 3.837], [1.677, 3.914], [1.545, 3.899], [1.526, 4.039]]
const WO_IS1 = [[1.441, 5.009], [1.507, 5.034], [1.658, 5.034], [1.667, 4.987], [1.555, 4.918], [1.47, 4.956]]
const MI_OUT = [[3.355, 1.643], [3.123, 1.674], [2.911, 1.799], [2.615, 1.805], [2.362, 1.914], [2.108, 2.007], [1.939, 1.914], [1.643, 1.83], [1.389, 1.684], [1.22, 1.559], [1.22, 1.455], [1.304, 1.351], [1.474, 1.247], [1.727, 1.174], [1.854, 1.097], [2.15, 1.101], [2.404, 1.153], [2.637, 1.184], [2.911, 1.184], [3.123, 1.122], [3.186, 1.205], [3.271, 1.309], [3.123, 1.434], [3.355, 1.476]]
const MI_IN = [[1.558, 1.434], [1.6, 1.559], [1.812, 1.684], [2.066, 1.726], [2.319, 1.716], [2.615, 1.643], [2.869, 1.664], [3.038, 1.559], [2.911, 1.434], [2.658, 1.33], [2.404, 1.299], [2.235, 1.288], [1.896, 1.226], [1.727, 1.288]]
const MO_OUT = [[1.241, 4.458], [1.367, 4.628], [1.6, 4.813], [1.768, 4.844], [1.916, 4.921], [2.127, 4.989], [2.296, 4.921], [2.465, 4.844], [2.718, 4.705], [2.887, 4.643], [3.098, 4.535], [3.246, 4.396], [3.309, 4.18], [3.246, 3.964], [3.056, 3.718], [2.887, 3.656], [2.634, 3.764], [2.38, 3.779], [2.127, 3.826], [1.874, 3.903], [1.621, 3.965], [1.452, 4.057], [1.283, 4.242]]
const MO_IN = [[1.578, 4.458], [1.642, 4.535], [1.874, 4.582], [2.127, 4.597], [2.38, 4.551], [2.592, 4.458], [2.845, 4.427], [3.056, 4.273], [2.971, 4.119], [2.866, 3.887], [2.634, 3.98], [2.38, 3.918], [2.148, 3.887], [1.874, 3.965], [1.663, 4.119], [1.557, 4.304]]
const IO_OUT = [[1.049, 4.458], [1.11, 4.582], [1.171, 4.643], [1.13, 4.921], [1.14, 5.045], [1.232, 5.091], [1.314, 5.045], [1.355, 4.859], [1.436, 4.767], [1.559, 4.643], [1.64, 4.52], [1.743, 4.366], [1.824, 4.273], [1.906, 4.119], [1.998, 3.903], [1.936, 3.81], [1.845, 3.81], [1.743, 3.748], [1.64, 3.702], [1.549, 3.687], [1.457, 3.779], [1.355, 3.903], [1.232, 4.057], [1.171, 4.18], [1.11, 4.335]]
const IO_IN = [[1.222, 4.427], [1.232, 4.551], [1.304, 4.643], [1.436, 4.582], [1.559, 4.458], [1.651, 4.335], [1.722, 4.196], [1.712, 3.995], [1.681, 3.887], [1.579, 3.918], [1.477, 3.995], [1.375, 4.119], [1.293, 4.227], [1.253, 4.304]]

const SAMPLES = [P_S, K_S, E_S, W_S, M_S, I_S, O_S]
const HISTS = [P_HIST, K_HIST, E_HIST, W_HIST, M_HIST, I_HIST, O_HIST]
const QUANTS = [P_Q, K_Q, E_Q, W_Q, M_Q, I_Q, O_Q]
const TICKS = [P_TK, K_TK, E_TK, W_TK, M_TK, I_TK, O_TK]

// key: `${xIndex}-${yIndex}`, value: [points, closed]
const CONTOURS: Record<string, [number[][], boolean][]> = {
  '0-1': [[PK_OUT, false], [PK_IN, true]],
  '0-2': [[PE_OUT, true], [PE_IN, true]],
  '0-3': [[PW_OUT, true], [PW_IN, true]],
  '0-4': [[PM_OUT, true], [PM_IN, true], [PM_IS1, true], [PM_IS2, true]],
  '0-5': [[PI_OUT, false], [PI_IN, true]],
  '0-6': [[PO_OUT, true], [PO_IN, true], [PO_IS1, true]],
  '1-2': [[KE_OUT, true], [KE_IN, true]],
  '1-3': [[KW_OUT, true], [KW_IN, true]],
  '1-4': [[KM_OUT, false], [KM_IN, true]],
  '1-5': [[KI_OUT, true], [KI_IN, true], [KI_IS1, true]],
  '1-6': [[KO_OUT, true], [KO_IN, true]],
  '2-3': [[EW_OUT, true], [EW_IN, true]],
  '2-4': [[EM_OUT, true], [EM_IN, true]],
  '2-5': [[EI_OUT, true], [EI_IN, true]],
  '2-6': [[EO_OUT, true], [EO_IN, true]],
  '3-4': [[WM_OUT, true], [WM_IN, true]],
  '3-5': [[WI_OUT, true], [WI_IN, true], [WI_IS1, true], [WI_IS2, true]],
  '3-6': [[WO_OUT, true], [WO_IN, true], [WO_IS1, true]],
  '4-5': [[MI_OUT, false], [MI_IN, true]],
  '4-6': [[MO_OUT, true], [MO_IN, true]],
  '5-6': [[IO_OUT, true], [IO_IN, true]],
}

// axis ranges: scatter x, scatter y, histogram x
const X_DOM = [[9.402, 9.998], [20.1, 47.5], [0.297, 0.547], [1.221, 2.195], [1.093, 3.44], [0.969, 2.104]]
const Y_DOM = [[0, 1], [21.0, 46.2], [0.299, 0.546], [1.246, 2.199], [1.116, 3.48], [0.976, 2.12], [3.588, 5.276]]
const H_DOM = [[9.394, 10.001], [19.97, 48], [0.2813, 0.5622], [1.1616, 2.243], [1.01, 3.495], [0.853, 2.152], [3.427, 5.364]]

const LEFT = 64
const TOP = 20.5
const PW = 185.3
const PH = 182.9
const GRAY = '#bebebe'
const FONT = '"Liberation Sans", Arial, Helvetica, sans-serif'
// axes take 1px on each side, so the chart is 2px larger than the panel
const NOM = { top: 0, right: 0, bottom: 0, left: 0 }

const rnd = (v: number) => Math.round(v * 1e6) / 1e6
const fmt = (v: number) => String(+v.toFixed(4))

function tickSet(dom: number[], step: number) {
  const minor = step / 5
  const out: number[] = []
  const k0 = Math.ceil((dom[0] - 1e-9) / minor)
  const k1 = Math.floor((dom[1] + 1e-9) / minor)
  for (let k = k0; k <= k1; k++) out.push(rnd(k * minor))
  return out
}

const isMajor = (v: number, step: number) => Math.abs(v / step - Math.round(v / step)) < 1e-6

function tickFn(side: string, step: number, labels: boolean) {
  return (p: any) => {
    const { x, y, payload } = p
    const v = payload.value
    const major = isMajor(v, step)
    const len = major ? 6 : 3
    let x2 = x
    let y2 = y
    if (side === 'bottom') y2 = y - len
    if (side === 'top') y2 = y + len
    if (side === 'left') x2 = x + len
    if (side === 'right') x2 = x - len
    let label = null
    if (labels && major) {
      if (side === 'top') label = <text x={x} y={y - 11.5} textAnchor="middle" fontSize={11.5} fill="#000" fontFamily={FONT}>{fmt(v)}</text>
      if (side === 'bottom') label = <text x={x} y={y + 23} textAnchor="middle" fontSize={11.5} fill="#000" fontFamily={FONT}>{fmt(v)}</text>
      if (side === 'left') label = <text transform={`translate(${x - 11.6},${y}) rotate(-90)`} textAnchor="middle" fontSize={11.5} fill="#000" fontFamily={FONT}>{fmt(v)}</text>
    }
    return (
      <g>
        <line x1={x} y1={y} x2={x2} y2={y2} stroke="#000" strokeWidth={1} />
        {label}
      </g>
    )
  }
}

const AX = { type: 'number' as const, allowDataOverflow: true, interval: 0, tickLine: false, tickSize: 0, tickMargin: 0, axisLine: { stroke: '#000', strokeWidth: 1 } }

const Dot = (p: any) => <circle cx={p.cx} cy={p.cy} r={1.75} fill={GRAY} />
const Blank = () => <g />

function Hist({ k }: { k: number }) {
  const counts = HISTS[k]
  const data = counts.map((c, i) => ({ x: rnd(BIN_START[k] + i * BIN_WIDTH[k]), c }))
  data.push({ x: rnd(BIN_START[k] + counts.length * BIN_WIDTH[k]), c: counts[counts.length - 1] })
  const max = Math.max(...counts)
  const yd = [-0.04 * max, 1.04 * max]
  const step = TICKS[k][1] - TICKS[k][0]
  const xt = tickSet(H_DOM[k], step)
  const yt = tickSet(yd, 100)
  return (
    <AreaChart width={PW + 2} height={PH + 2} data={data} margin={NOM}>
      <XAxis xAxisId="b" orientation="bottom" dataKey="x" domain={H_DOM[k]} ticks={xt} height={1} tick={tickFn('bottom', step, false)} {...AX} />
      <XAxis xAxisId="t" orientation="top" dataKey="x" domain={H_DOM[k]} ticks={xt} height={1} tick={tickFn('top', step, true)} {...AX} />
      <YAxis yAxisId="l" orientation="left" dataKey="c" domain={yd} ticks={yt} width={1} tick={tickFn('left', 100, false)} {...AX} />
      <YAxis yAxisId="r" orientation="right" dataKey="c" domain={yd} ticks={yt} width={1} tick={tickFn('right', 100, false)} {...AX} />
      <Area xAxisId="b" yAxisId="l" dataKey="c" type="stepAfter" baseValue={0} fill={GRAY} fillOpacity={1} stroke="none" isAnimationActive={false} />
      <ReferenceLine xAxisId="b" yAxisId="l" x={QUANTS[k][0]} stroke="#0000ff" strokeWidth={2} />
      <ReferenceLine xAxisId="b" yAxisId="l" x={QUANTS[k][2]} stroke="#0000ff" strokeWidth={2} />
      <ReferenceLine xAxisId="b" yAxisId="l" x={QUANTS[k][1]} stroke="#ff0000" strokeWidth={2} />
    </AreaChart>
  )
}

function Pair({ c, r }: { c: number; r: number }) {
  const pts = SAMPLES[c].map((v, i) => ({ x: v, y: SAMPLES[r][i] }))
  const xs = TICKS[c][1] - TICKS[c][0]
  const ys = TICKS[r][1] - TICKS[r][0]
  const xt = tickSet(X_DOM[c], xs)
  const yt = tickSet(Y_DOM[r], ys)
  const lines = (CONTOURS[`${c}-${r}`] || []).map(([poly, closed]) => {
    const d = poly.map(([x, y]) => ({ x, y }))
    if (closed) d.push({ x: poly[0][0], y: poly[0][1] })
    return d
  })
  return (
    <ScatterChart width={PW + 2} height={PH + 2} margin={NOM}>
      <XAxis xAxisId="b" orientation="bottom" dataKey="x" domain={X_DOM[c]} ticks={xt} height={1} tick={tickFn('bottom', xs, r === 6)} {...AX} />
      <XAxis xAxisId="t" orientation="top" dataKey="x" domain={X_DOM[c]} ticks={xt} height={1} tick={tickFn('top', xs, false)} {...AX} />
      <YAxis yAxisId="l" orientation="left" dataKey="y" domain={Y_DOM[r]} ticks={yt} width={1} tick={tickFn('left', ys, c === 0)} {...AX} />
      <YAxis yAxisId="r" orientation="right" dataKey="y" domain={Y_DOM[r]} ticks={yt} width={1} tick={tickFn('right', ys, false)} {...AX} />
      <Scatter xAxisId="b" yAxisId="l" data={pts} fill={GRAY} shape={Dot} isAnimationActive={false} />
      {lines.map((d, i) => (
        <Scatter key={i} xAxisId="b" yAxisId="l" data={d} fill="none" line={{ stroke: '#000', strokeWidth: 1 }} lineType="joint" shape={Blank} isAnimationActive={false} />
      ))}
    </ScatterChart>
  )
}

function Title({ k }: { k: number }) {
  return (
    <span>
      {NAME[k]}
      <span style={{ fontSize: '0.72em', position: 'relative', top: '0.3em' }}>{SUB[k]}</span>
      {UNIT[k]}
    </span>
  )
}

export default function App() {
  const cells = []
  for (let r = 0; r < 7; r++) {
    for (let c = 0; c <= r; c++) {
      cells.push(
        <div key={`${r}-${c}`} style={{ position: 'absolute', left: LEFT + c * PW - 1, top: TOP + r * PH - 1, width: PW + 2, height: PH + 2 }}>
          {r === c ? <Hist k={c} /> : <Pair c={c} r={r} />}
        </div>
      )
    }
  }
  const titles = []
  for (let c = 0; c < 7; c++) {
    titles.push(
      <div key={`bx${c}`} style={{ position: 'absolute', left: LEFT + (c + 0.5) * PW, top: 1341, transform: 'translate(-50%, -50%)', fontSize: 19, lineHeight: 1, whiteSpace: 'nowrap' }}>
        <Title k={c} />
      </div>
    )
  }
  for (let r = 1; r < 7; r++) {
    titles.push(
      <div key={`ly${r}`} style={{ position: 'absolute', left: 19, top: TOP + (r + 0.5) * PH, transform: 'translate(-50%, -50%) rotate(-90deg)', fontSize: 19, lineHeight: 1, whiteSpace: 'nowrap' }}>
        <Title k={r} />
      </div>
    )
  }
  return (
    <div style={{ position: 'absolute', left: 0, top: 0, width: 1385, height: 1359, background: '#fff', fontFamily: FONT, color: '#000' }}>
      <style>{'.recharts-surface{overflow:visible}.recharts-wrapper{overflow:visible}'}</style>
      {cells}
      {titles}
    </div>
  )
}
